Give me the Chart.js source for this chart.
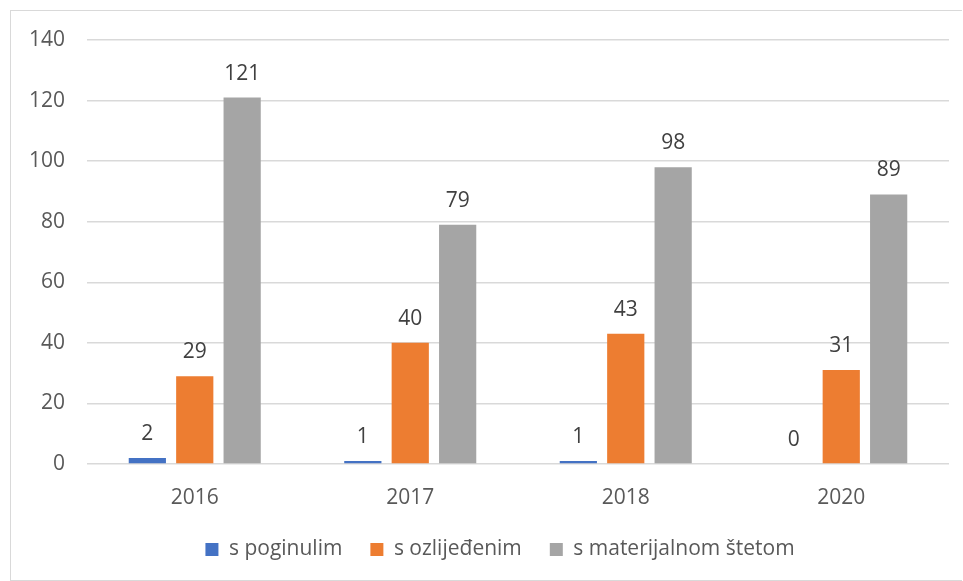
<!DOCTYPE html>
<html><head><meta charset="utf-8">
<script src="https://cdn.jsdelivr.net/npm/chart.js@4/dist/chart.umd.min.js"></script>
<style>
html,body{margin:0;padding:0;background:#fff;}
#wrap{position:absolute;left:10px;top:10px;width:951px;height:569px;border:1px solid #d9d9d9;border-right:none;}
canvas{display:block;}
</style></head><body>
<div id="wrap"><canvas id="c" width="951" height="569"></canvas></div>
<script>
const categories = ['2016', '2017', '2018', '2020'];
const poginulim = [2, 1, 1, 0];
const ozlijedenim = [29, 40, 43, 31];
const materijalnom = [121, 79, 98, 89];
const seriesNames = ['s poginulim', 's ozlijeđenim', 's materijalnom štetom'];
const yTicks = [0, 20, 40, 60, 80, 100, 120, 140];

const FONT = "'Open Sans', sans-serif";
const FS = 21;

const labelPlugin = {
  id: 'valueLabels',
  afterLayout(chart) {
    if (chart.legend) { chart.legend.left += 20; chart.legend.right += 20; }
  },
  afterDatasetsDraw(chart) {
    const ctx = chart.ctx;
    ctx.save();
    ctx.font = FS + 'px ' + FONT;
    ctx.fillStyle = '#404040';
    ctx.textAlign = 'center';
    ctx.textBaseline = 'middle';
    chart.data.datasets.forEach((ds, i) => {
      const meta = chart.getDatasetMeta(i);
      meta.data.forEach((bar, j) => {
        ctx.fillText(String(ds.data[j]), bar.x, bar.y - 24);
      });
    });
    ctx.restore();
  }
};

new Chart(document.getElementById('c'), {
  type: 'bar',
  data: {
    labels: categories,
    datasets: [
      { label: seriesNames[0], data: poginulim, backgroundColor: '#4472C4' },
      { label: seriesNames[1], data: ozlijedenim, backgroundColor: '#ED7D31' },
      { label: seriesNames[2], data: materijalnom, backgroundColor: '#A5A5A5' }
    ]
  },
  options: {
    responsive: false,
    animation: false,
    devicePixelRatio: 1,
    layout: { padding: { left: 0, right: 13, top: 29, bottom: 10 } },
    datasets: { bar: { categoryPercentage: 0.66, barPercentage: 0.785 } },
    plugins: {
      legend: {
        position: 'bottom',
        labels: {
          boxWidth: 13, boxHeight: 13, padding: 28,
          color: '#595959',
          font: { family: FONT, size: FS }
        }
      },
      tooltip: { enabled: false }
    },
    scales: {
      x: {
        grid: { display: false },
        border: { display: false },
        afterFit(scale) { scale.height = 47; scale.paddingRight = 0; scale.paddingLeft = 0; },
        ticks: { color: '#595959', font: { family: FONT, size: FS }, padding: 13 }
      },
      y: {
        min: 0, max: 140,
        afterBuildTicks(scale) { scale.ticks = yTicks.map(v => ({ value: v })); },
        afterFit(scale) { scale.width = 76; scale.paddingTop = 0; scale.paddingBottom = 0; },
        grid: { color: '#d9d9d9', lineWidth: 1.5, drawTicks: false },
        border: { display: false },
        ticks: { color: '#595959', font: { family: FONT, size: FS }, padding: 22 }
      }
    }
  },
  plugins: [labelPlugin]
});
</script>
</body></html>
